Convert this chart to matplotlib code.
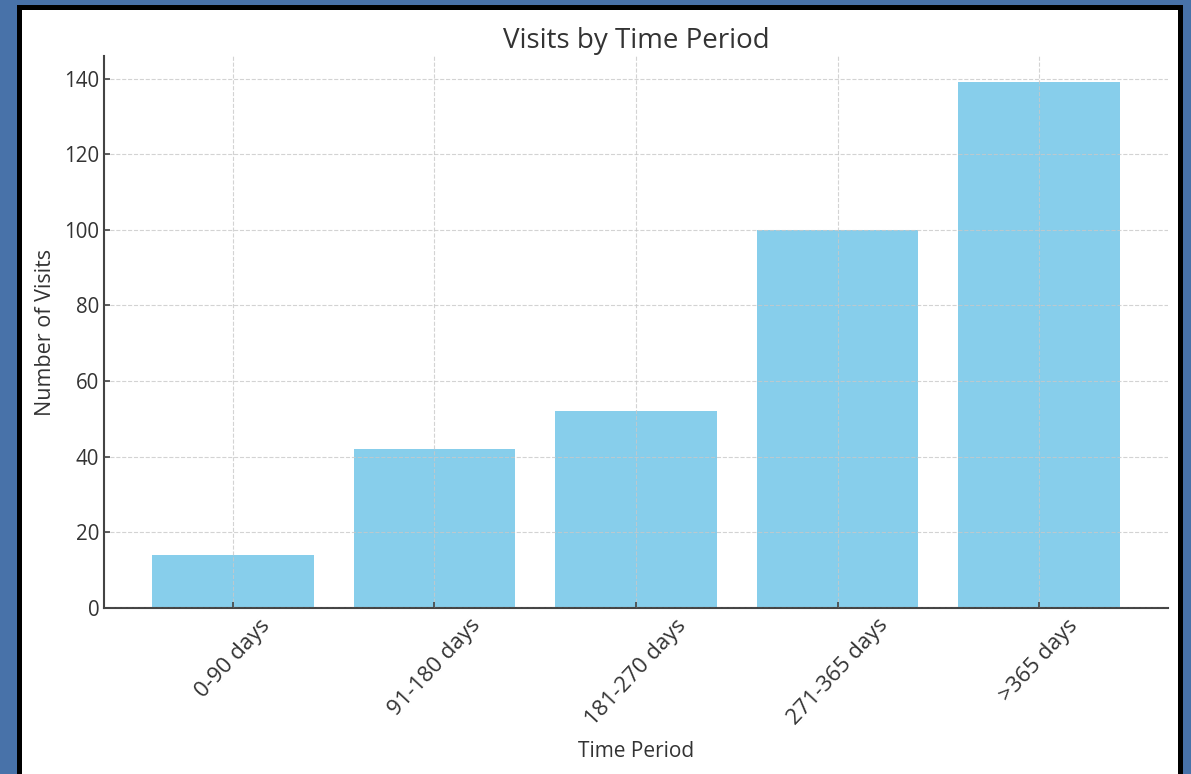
import matplotlib.pyplot as plt
from matplotlib.patches import Rectangle

periods = ["0-90 days", "91-180 days", "181-270 days", "271-365 days", ">365 days"]
visits = [14, 42, 52, 100, 139]

plt.rcParams['font.family'] = ['Open Sans', 'DejaVu Sans']

fig = plt.figure(figsize=(11.91, 7.74), dpi=100, facecolor="#4872a9")
# black frame and white card, like the screenshot
fig.patches.append(Rectangle((17 / 1191, 0), (1183 - 17) / 1191, 1 - 5 / 774,
                             transform=fig.transFigure, facecolor="black", edgecolor="none", zorder=-2))
fig.patches.append(Rectangle((22 / 1191, 0), (1178 - 22) / 1191, 1 - 10 / 774,
                             transform=fig.transFigure, facecolor="white", edgecolor="none", zorder=-1))

ax = fig.add_axes([104 / 1191, 1 - 608 / 774, (1168 - 104) / 1191, (608 - 56) / 774])
ax.set_facecolor("none")
ax.bar(periods, visits, color="skyblue", width=0.8)

txt = "#333333"
ax.set_title("Visits by Time Period", fontsize=20, color=txt, pad=6)
ax.set_xlabel("Time Period", fontsize=15, color=txt, labelpad=8)
ax.set_ylabel("Number of Visits", fontsize=15.5, color=txt, labelpad=6)
ax.set_yticks([0, 20, 40, 60, 80, 100, 120, 140])
ax.tick_params(direction="in", length=4, width=1.2, colors="#444444", labelsize=14.8, labelcolor=txt)
ax.tick_params(axis="x", pad=5)
plt.setp(ax.get_xticklabels(), rotation=47, fontsize=16)

ax.grid(True, linestyle="--", color="#c8c8c8", linewidth=0.8, alpha=0.8)
ax.set_axisbelow(False)

for s in ["top", "right"]:
    ax.spines[s].set_visible(False)
for s in ["left", "bottom"]:
    ax.spines[s].set_color("#444444")
    ax.spines[s].set_linewidth(1.5)

fig.savefig("out.png", dpi=100, facecolor=fig.get_facecolor())
